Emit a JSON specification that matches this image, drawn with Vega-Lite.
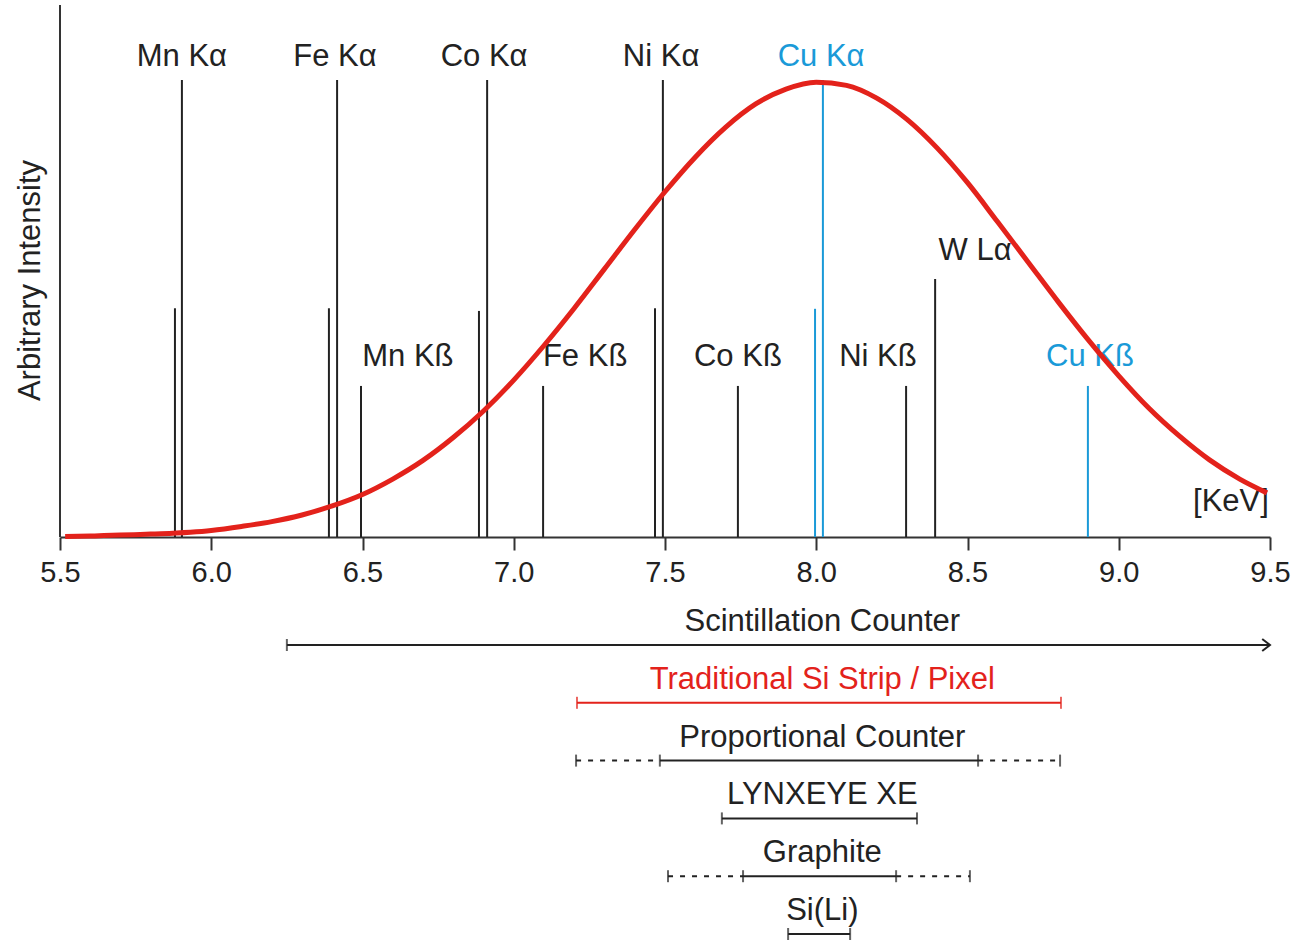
{
  "$schema": "https://vega.github.io/schema/vega-lite/v6.json",
  "width": 1210,
  "height": 938,
  "autosize": {"type": "none"},
  "padding": {"left": 60, "top": 5, "right": 28, "bottom": 0},
  "background": "white",
  "config": {"view": {"stroke": null}, "font": "Liberation Sans"},
  "datasets": {
    "curve": [
      {"energy": 5.517, "intensity": 0.1},
      {"energy": 5.6, "intensity": 0.2},
      {"energy": 5.8, "intensity": 0.55},
      {"energy": 6.0, "intensity": 1.25},
      {"energy": 6.1, "intensity": 2.0},
      {"energy": 6.2, "intensity": 2.9},
      {"energy": 6.3, "intensity": 4.15},
      {"energy": 6.4, "intensity": 5.85},
      {"energy": 6.5, "intensity": 8.0},
      {"energy": 6.6, "intensity": 10.9},
      {"energy": 6.7, "intensity": 14.4},
      {"energy": 6.8, "intensity": 18.7},
      {"energy": 6.9, "intensity": 23.7},
      {"energy": 7.0, "intensity": 29.5},
      {"energy": 7.1, "intensity": 36.0},
      {"energy": 7.2, "intensity": 43.0},
      {"energy": 7.3, "intensity": 50.4},
      {"energy": 7.4, "intensity": 57.8},
      {"energy": 7.5, "intensity": 64.9},
      {"energy": 7.6, "intensity": 71.4},
      {"energy": 7.7, "intensity": 77.0},
      {"energy": 7.8, "intensity": 81.4},
      {"energy": 7.9, "intensity": 84.2},
      {"energy": 8.0, "intensity": 85.5},
      {"energy": 8.1, "intensity": 84.9},
      {"energy": 8.2, "intensity": 82.5},
      {"energy": 8.3, "intensity": 78.5},
      {"energy": 8.4, "intensity": 73.1},
      {"energy": 8.5, "intensity": 66.6},
      {"energy": 8.6, "intensity": 59.2},
      {"energy": 8.7, "intensity": 51.7},
      {"energy": 8.8, "intensity": 44.2},
      {"energy": 8.9, "intensity": 37.0},
      {"energy": 9.0, "intensity": 30.3},
      {"energy": 9.1, "intensity": 24.2},
      {"energy": 9.2, "intensity": 19.0},
      {"energy": 9.3, "intensity": 14.5},
      {"energy": 9.4, "intensity": 10.9},
      {"energy": 9.49, "intensity": 8.3}
    ],
    "lines": [
      {"line": "Mn Kα2", "energy": 5.880, "intensity": 43.0, "group": "dark"},
      {"line": "Mn Kα1", "energy": 5.903, "intensity": 85.9, "group": "dark"},
      {"line": "Fe Kα2", "energy": 6.389, "intensity": 43.0, "group": "dark"},
      {"line": "Fe Kα1", "energy": 6.416, "intensity": 85.9, "group": "dark"},
      {"line": "Mn Kß", "energy": 6.495, "intensity": 28.4, "group": "dark"},
      {"line": "Co Kα2", "energy": 6.885, "intensity": 42.5, "group": "dark"},
      {"line": "Co Kα1", "energy": 6.912, "intensity": 85.9, "group": "dark"},
      {"line": "Fe Kß", "energy": 7.097, "intensity": 28.4, "group": "dark"},
      {"line": "Ni Kα2", "energy": 7.467, "intensity": 43.0, "group": "dark"},
      {"line": "Ni Kα1", "energy": 7.493, "intensity": 85.9, "group": "dark"},
      {"line": "Co Kß", "energy": 7.741, "intensity": 28.4, "group": "dark"},
      {"line": "Cu Kα2", "energy": 7.996, "intensity": 42.9, "group": "Cu"},
      {"line": "Cu Kα1", "energy": 8.022, "intensity": 85.9, "group": "Cu"},
      {"line": "Ni Kß", "energy": 8.297, "intensity": 28.4, "group": "dark"},
      {"line": "W Lα", "energy": 8.393, "intensity": 48.5, "group": "dark"},
      {"line": "Cu Kß", "energy": 8.898, "intensity": 28.4, "group": "Cu"}
    ],
    "labels": [
      {"label": "Mn Kα", "energy": 5.903, "intensity": 90.2, "group": "dark"},
      {"label": "Fe Kα", "energy": 6.409, "intensity": 90.2, "group": "dark"},
      {"label": "Co Kα", "energy": 6.902, "intensity": 90.2, "group": "dark"},
      {"label": "Ni Kα", "energy": 7.487, "intensity": 90.2, "group": "dark"},
      {"label": "Cu Kα", "energy": 8.016, "intensity": 90.2, "group": "Cu"},
      {"label": "Mn Kß", "energy": 6.650, "intensity": 33.8, "group": "dark"},
      {"label": "Fe Kß", "energy": 7.236, "intensity": 33.8, "group": "dark"},
      {"label": "Co Kß", "energy": 7.741, "intensity": 33.8, "group": "dark"},
      {"label": "Ni Kß", "energy": 8.204, "intensity": 33.8, "group": "dark"},
      {"label": "Cu Kß", "energy": 8.905, "intensity": 33.8, "group": "Cu"},
      {"label": "W Lα", "energy": 8.525, "intensity": 53.8, "group": "dark"},
      {"label": "[KeV]", "energy": 9.371, "intensity": 6.6, "group": "dark"}
    ],
    "segments": [
      {"detector": "Scintillation Counter", "start": 6.25, "end": 9.5, "style": "solid", "group": "dark"},
      {"detector": "Traditional Si Strip / Pixel", "start": 7.209, "end": 8.809, "style": "solid", "group": "red"},
      {"detector": "Proportional Counter", "start": 7.206, "end": 7.483, "style": "dashed", "group": "dark"},
      {"detector": "Proportional Counter", "start": 7.483, "end": 8.535, "style": "solid", "group": "dark"},
      {"detector": "Proportional Counter", "start": 8.535, "end": 8.806, "style": "dashed", "group": "dark"},
      {"detector": "LYNXEYE XE", "start": 7.688, "end": 8.333, "style": "solid", "group": "dark"},
      {"detector": "Graphite", "start": 7.510, "end": 7.758, "style": "dashed", "group": "dark"},
      {"detector": "Graphite", "start": 7.758, "end": 8.264, "style": "solid", "group": "dark"},
      {"detector": "Graphite", "start": 8.264, "end": 8.508, "style": "dashed", "group": "dark"},
      {"detector": "Si(Li)", "start": 7.907, "end": 8.112, "style": "solid", "group": "dark"}
    ],
    "ticks": [
      {"detector": "Scintillation Counter", "energy": 6.25, "group": "dark"},
      {"detector": "Traditional Si Strip / Pixel", "energy": 7.209, "group": "red"},
      {"detector": "Traditional Si Strip / Pixel", "energy": 8.809, "group": "red"},
      {"detector": "Proportional Counter", "energy": 7.206, "group": "dark"},
      {"detector": "Proportional Counter", "energy": 7.483, "group": "dark"},
      {"detector": "Proportional Counter", "energy": 8.535, "group": "dark"},
      {"detector": "Proportional Counter", "energy": 8.806, "group": "dark"},
      {"detector": "LYNXEYE XE", "energy": 7.688, "group": "dark"},
      {"detector": "LYNXEYE XE", "energy": 8.333, "group": "dark"},
      {"detector": "Graphite", "energy": 7.510, "group": "dark"},
      {"detector": "Graphite", "energy": 7.758, "group": "dark"},
      {"detector": "Graphite", "energy": 8.264, "group": "dark"},
      {"detector": "Graphite", "energy": 8.508, "group": "dark"},
      {"detector": "Si(Li)", "energy": 7.907, "group": "dark"},
      {"detector": "Si(Li)", "energy": 8.112, "group": "dark"}
    ],
    "detectors": [
      {"detector": "Scintillation Counter", "group": "dark"},
      {"detector": "Traditional Si Strip / Pixel", "group": "red"},
      {"detector": "Proportional Counter", "group": "dark"},
      {"detector": "LYNXEYE XE", "group": "dark"},
      {"detector": "Graphite", "group": "dark"},
      {"detector": "Si(Li)", "group": "dark"}
    ],
    "arrow": [
      {"detector": "Scintillation Counter", "energy": 9.5, "group": "dark"}
    ],
    "yaxis": [
      {"energy": 5.5, "low": 0, "high": 100}
    ]
  },
  "resolve": {"scale": {"y": "independent"}, "axis": {"y": "independent"}},
  "layer": [
    {
      "data": {"name": "lines"},
      "mark": {"type": "rule", "strokeWidth": 2},
      "encoding": {
        "x": {
          "field": "energy", "type": "quantitative", "title": null,
          "scale": {"domain": [5.5, 9.5], "nice": false, "zero": false},
          "axis": {
            "values": [5.5, 6.0, 6.5, 7.0, 7.5, 8.0, 8.5, 9.0, 9.5],
            "format": ".1f", "offset": -406, "grid": false,
            "domainColor": "#333333", "domainWidth": 2,
            "tickColor": "#333333", "tickWidth": 2, "tickSize": 13,
            "labelFont": "Liberation Sans", "labelFontSize": 29, "labelColor": "#222222",
            "labelPadding": 8, "labelFlush": false, "labelOverlap": false
          }
        },
        "y": {
          "field": "intensity", "type": "quantitative",
          "scale": {"domain": [-76.3, 100], "nice": false, "zero": false},
          "axis": {
            "title": "Arbitrary Intensity", "domain": false, "ticks": false, "labels": false, "grid": false,
            "titleFont": "Liberation Sans", "titleFontSize": 31, "titleFontWeight": "normal",
            "titleColor": "#222222", "titlePadding": 14, "titleY": 275
          }
        },
        "y2": {"datum": 0},
        "color": {
          "field": "group", "type": "nominal", "legend": null,
          "scale": {"domain": ["dark", "Cu", "red"], "range": ["#222222", "#1a9ad8", "#e3221b"]}
        }
      }
    },
    {
      "data": {"name": "yaxis"},
      "mark": {"type": "rule", "strokeWidth": 2, "color": "#333333"},
      "encoding": {
        "x": {"field": "energy", "type": "quantitative", "title": null},
        "y": {"field": "low", "type": "quantitative", "axis": null, "scale": {"domain": [-76.3, 100], "nice": false, "zero": false}},
        "y2": {"field": "high"}
      }
    },
    {
      "data": {"name": "labels"},
      "mark": {"type": "text", "fontSize": 31, "font": "Liberation Sans", "baseline": "middle", "align": "center"},
      "encoding": {
        "x": {"field": "energy", "type": "quantitative", "title": null},
        "y": {"field": "intensity", "type": "quantitative", "axis": null, "scale": {"domain": [-76.3, 100], "nice": false, "zero": false}},
        "text": {"field": "label"},
        "color": {"field": "group", "type": "nominal", "legend": null}
      }
    },
    {
      "data": {"name": "curve"},
      "mark": {"type": "line", "color": "#e3221b", "strokeWidth": 5, "interpolate": "monotone"},
      "encoding": {
        "x": {"field": "energy", "type": "quantitative", "title": null},
        "y": {"field": "intensity", "type": "quantitative", "axis": null, "scale": {"domain": [-76.3, 100], "nice": false, "zero": false}}
      }
    },
    {
      "data": {"name": "segments"},
      "mark": {"type": "rule", "strokeWidth": 2},
      "encoding": {
        "x": {"field": "start", "type": "quantitative", "title": null},
        "x2": {"field": "end"},
        "y": {
          "field": "detector", "type": "nominal", "axis": null,
          "scale": {
            "type": "point", "padding": 0, "range": [640, 929],
            "domain": ["Scintillation Counter", "Traditional Si Strip / Pixel", "Proportional Counter", "LYNXEYE XE", "Graphite", "Si(Li)"]
          }
        },
        "color": {"field": "group", "type": "nominal", "legend": null},
        "strokeDash": {
          "field": "style", "type": "nominal", "legend": null,
          "scale": {"domain": ["solid", "dashed"], "range": [[1, 0], [5, 7]]}
        }
      }
    },
    {
      "data": {"name": "ticks"},
      "mark": {"type": "tick", "size": 12, "thickness": 2, "orient": "vertical"},
      "encoding": {
        "x": {"field": "energy", "type": "quantitative", "title": null},
        "y": {
          "field": "detector", "type": "nominal", "axis": null,
          "scale": {
            "type": "point", "padding": 0, "range": [640, 929],
            "domain": ["Scintillation Counter", "Traditional Si Strip / Pixel", "Proportional Counter", "LYNXEYE XE", "Graphite", "Si(Li)"]
          }
        },
        "color": {"field": "group", "type": "nominal", "legend": null}
      }
    },
    {
      "data": {"name": "arrow"},
      "mark": {"type": "point", "shape": "M-1.3,-1L0,0L-1.3,1", "filled": false, "size": 144, "strokeWidth": 2, "opacity": 1},
      "encoding": {
        "x": {"field": "energy", "type": "quantitative", "title": null},
        "y": {
          "field": "detector", "type": "nominal", "axis": null,
          "scale": {
            "type": "point", "padding": 0, "range": [640, 929],
            "domain": ["Scintillation Counter", "Traditional Si Strip / Pixel", "Proportional Counter", "LYNXEYE XE", "Graphite", "Si(Li)"]
          }
        },
        "color": {"field": "group", "type": "nominal", "legend": null}
      }
    },
    {
      "data": {"name": "detectors"},
      "mark": {"type": "text", "fontSize": 31, "font": "Liberation Sans", "baseline": "middle", "align": "center", "dy": -23},
      "encoding": {
        "x": {"datum": 8.02, "type": "quantitative", "title": null},
        "y": {
          "field": "detector", "type": "nominal", "axis": null,
          "scale": {
            "type": "point", "padding": 0, "range": [640, 929],
            "domain": ["Scintillation Counter", "Traditional Si Strip / Pixel", "Proportional Counter", "LYNXEYE XE", "Graphite", "Si(Li)"]
          }
        },
        "text": {"field": "detector"},
        "color": {"field": "group", "type": "nominal", "legend": null}
      }
    }
  ]
}
